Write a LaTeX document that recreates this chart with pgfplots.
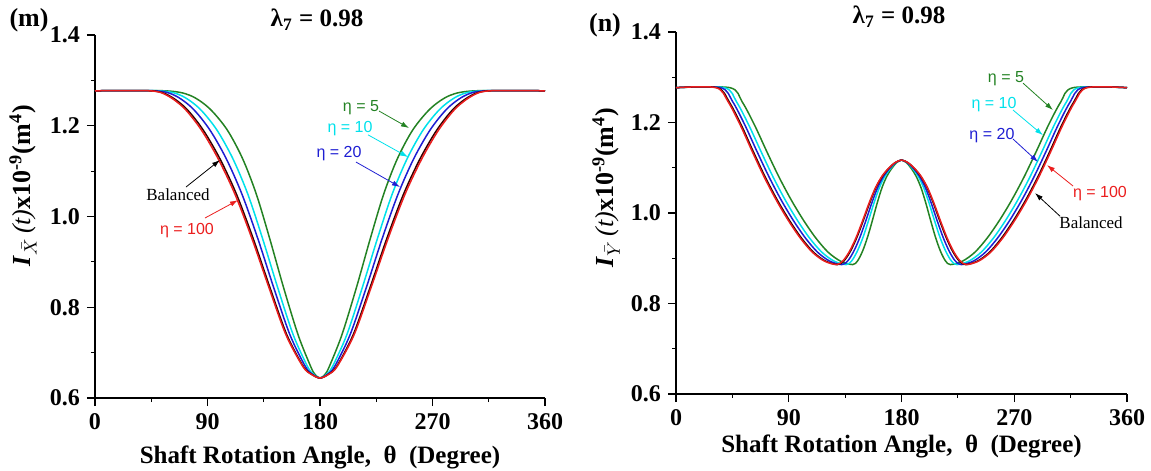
\documentclass[border=0pt]{standalone}
\usepackage{pgfplots}
\pgfplotsset{compat=1.18}
\usepackage{fontspec}
\setmainfont{Liberation Serif}
\setsansfont{Liberation Sans}
\usetikzlibrary{arrows.meta}
\definecolor{cgreen}{RGB}{35,130,35}
\definecolor{ccyan}{RGB}{0,225,235}
\definecolor{cblue}{RGB}{30,30,210}
\definecolor{cred}{RGB}{235,30,30}
\definecolor{cblack}{RGB}{50,0,0}
\pgfplotsset{myax/.style={
 scale only axis, axis x line*=bottom, axis y line*=left,
 axis line style={-, line width=0.6pt},
 xmin=0,xmax=360,ymin=0.6,ymax=1.4,
 xtick={0,90,180,270,360}, ytick={0.6,0.8,1.0,1.2,1.4},
 minor x tick num=1, minor y tick num=1, tick align=outside,
 major tick length=4pt, minor tick length=2pt,
 tick style={black, line width=0.6pt},
 /pgf/number format/assume math mode=true,
 tick label style={font=\fontsize{12}{12}\selectfont\bfseries},
 yticklabel style={/pgf/number format/fixed, /pgf/number format/fixed zerofill, /pgf/number format/precision=1},
 label style={font=\fontsize{12.5}{13}\selectfont\bfseries},
 clip=false,
 every axis plot/.append style={line width=0.75pt, smooth, tension=0.5},
}}
\tikzset{ann/.style={font=\sffamily\fontsize{8}{8}\selectfont},
 annr/.style={font=\fontsize{8.5}{8.5}\selectfont},
 arr/.style={-{Latex[length=4pt,width=2.6pt]}, line width=0.4pt}}
\begin{document}
\begin{tikzpicture}
\useasboundingbox (0,0) rectangle (575.5pt,235.5pt);
\node[font=\fontsize{13}{13}\selectfont\bfseries] at (14.5pt,225.5pt) {(m)};
\node[font=\fontsize{12.5}{13}\selectfont\bfseries] at (158.5pt,225.5pt) {λ\textsubscript{7} = 0.98};
\node[font=\fontsize{13}{13}\selectfont\bfseries] at (302.5pt,223pt) {(n)};
\node[font=\fontsize{12.5}{13}\selectfont\bfseries] at (449.5pt,227pt) {λ\textsubscript{7} = 0.98};
% ---------------- left panel
\begin{axis}[myax, at={(47.5pt,36.5pt)}, anchor=south west, width=225pt, height=181.5pt,
 xlabel={Shaft Rotation Angle,\ \ θ\ \ (Degree)},
 xlabel style={at={(axis description cs:0.5,-0.1625)}, anchor=center},
 ylabel={\textbf{\textit{I}}\textsubscript{$\bar{X}$}\,{\mdseries\textit{(t)}}x10\textsuperscript{-9}(m\textsuperscript{4})},
 ylabel style={at={(axis description cs:-0.16,0.584)}, anchor=center, rotate=0, font=\fontsize{13}{13}\selectfont\bfseries}]
\addplot[cgreen] coordinates {(0,1.277)(56,1.277)(76,1.267)(91.2,1.239)(105.5,1.192)(118,1.128)(129.1,1.049)(139.8,0.951)(150.9,0.843)(162.5,0.739)(172.6,0.669)(176,0.652)(180,0.644)(184,0.652)(187.4,0.669)(197.5,0.739)(209.1,0.843)(220.2,0.951)(230.9,1.049)(242,1.128)(254.5,1.192)(268.8,1.239)(284,1.267)(304,1.277)(360,1.277)};
\addplot[ccyan] coordinates {(0,1.277)(51.2,1.277)(68.6,1.267)(83.2,1.239)(97.2,1.192)(110.2,1.128)(122.3,1.049)(134.1,0.951)(146.2,0.843)(158.6,0.739)(170.1,0.669)(174.9,0.652)(180,0.644)(185.1,0.652)(189.9,0.669)(201.4,0.739)(213.8,0.843)(225.9,0.951)(237.7,1.049)(249.8,1.128)(262.8,1.192)(276.8,1.239)(291.4,1.267)(308.8,1.277)(360,1.277)};
\addplot[cblue] coordinates {(0,1.277)(48,1.277)(63.7,1.267)(77.8,1.239)(91.6,1.192)(104.9,1.128)(117.6,1.049)(130.3,0.951)(143,0.843)(156,0.739)(168.4,0.669)(174.1,0.652)(180,0.644)(185.9,0.652)(191.6,0.669)(204,0.739)(217,0.843)(229.7,0.951)(242.4,1.049)(255.1,1.128)(268.4,1.192)(282.2,1.239)(296.3,1.267)(312,1.277)(360,1.277)};
\addplot[cblack] coordinates {(0,1.277)(44.8,1.277)(58.9,1.267)(72.6,1.239)(86.2,1.192)(99.8,1.128)(113.2,1.049)(126.6,0.951)(140,0.843)(153.5,0.739)(166.8,0.669)(173.4,0.652)(180,0.644)(186.6,0.652)(193.2,0.669)(206.5,0.739)(220,0.843)(233.4,0.951)(246.8,1.049)(260.2,1.128)(273.8,1.192)(287.4,1.239)(301.1,1.267)(315.2,1.277)(360,1.277)};
\addplot[cred] coordinates {(0,1.277)(44,1.277)(57.6,1.267)(71.2,1.239)(84.8,1.192)(98.4,1.128)(112,1.049)(125.6,0.951)(139.2,0.843)(152.8,0.739)(166.4,0.669)(173.2,0.652)(180,0.644)(186.8,0.652)(193.6,0.669)(207.2,0.739)(220.8,0.843)(234.4,0.951)(248,1.049)(261.6,1.128)(275.2,1.192)(288.8,1.239)(302.4,1.267)(316,1.277)(360,1.277)};
\node[ann, cgreen] at (axis cs:212.8,1.241) {η = 5};
\draw[arr, cgreen] (axis cs:227.2,1.2325) -- (axis cs:251.2,1.195);
\node[ann, ccyan] at (axis cs:204,1.193) {η = 10};
\draw[arr, ccyan] (axis cs:218.4,1.180) -- (axis cs:250.4,1.131);
\node[ann, cblue] at (axis cs:195.2,1.138) {η = 20};
\draw[arr, cblue] (axis cs:208.8,1.120) -- (axis cs:244,1.065);
\node[annr, black] at (axis cs:66.4,1.047) {Balanced};
\draw[arr, black] (axis cs:72.8,1.065) -- (axis cs:100,1.1245);
\node[ann, cred] at (axis cs:73.6,0.970) {η = 100};
\draw[arr, cred] (axis cs:88,0.9967) -- (axis cs:114.4,1.036);
\end{axis}
% ---------------- right panel
\begin{axis}[myax, at={(338pt,38.5pt)}, anchor=south west, width=225.5pt, height=181pt,
 xlabel={Shaft Rotation Angle,\ \ θ\ \ (Degree)},
 xlabel style={at={(axis description cs:0.5,-0.146)}, anchor=center},
 ylabel={\textbf{\textit{I}}\textsubscript{$\bar{Y}$}\,{\mdseries\textit{(t)}}x10\textsuperscript{-9}(m\textsuperscript{4})},
 ylabel style={at={(axis description cs:-0.155,0.57)}, anchor=center, rotate=0, font=\fontsize{13}{13}\selectfont\bfseries}]
\addplot[cgreen] coordinates {(0,1.277)(43,1.277)(52.8,1.2457)(62.6,1.1949)(72.4,1.1362)(82.2,1.0795)(92,1.0287)(101.8,0.9838)(111.6,0.9447)(121.4,0.9134)(131.2,0.8938)(141,0.886)(144.9,0.8941)(148.8,0.9149)(152.7,0.9449)(156.6,0.9819)(160.5,1.0211)(164.4,1.0558)(168.3,1.0812)(172.2,1.0985)(176.1,1.1112)(180,1.117)(183.9,1.1112)(187.8,1.0985)(191.7,1.0812)(195.6,1.0558)(199.5,1.0211)(203.4,0.9819)(207.3,0.9449)(211.2,0.9149)(215.1,0.8941)(219,0.886)(228.8,0.8938)(238.6,0.9134)(248.4,0.9447)(258.2,0.9838)(268,1.0287)(277.8,1.0795)(287.6,1.1362)(297.4,1.1949)(307.2,1.2457)(317,1.277)(360,1.277)};
\addplot[ccyan] coordinates {(0,1.277)(38.6,1.277)(48.3,1.2457)(58,1.1949)(67.8,1.1362)(77.5,1.0795)(87.2,1.0287)(96.9,0.9838)(106.6,0.9447)(116.4,0.9134)(126.1,0.8938)(135.8,0.886)(140.2,0.8941)(144.6,0.9149)(149.1,0.9449)(153.5,0.9819)(157.9,1.0211)(162.3,1.0558)(166.7,1.0812)(171.2,1.0985)(175.6,1.1112)(180,1.117)(184.4,1.1112)(188.8,1.0985)(193.3,1.0812)(197.7,1.0558)(202.1,1.0211)(206.5,0.9819)(210.9,0.9449)(215.4,0.9149)(219.8,0.8941)(224.2,0.886)(233.9,0.8938)(243.6,0.9134)(253.4,0.9447)(263.1,0.9838)(272.8,1.0287)(282.5,1.0795)(292.2,1.1362)(302,1.1949)(311.7,1.2457)(321.4,1.277)(360,1.277)};
\addplot[cblue] coordinates {(0,1.277)(35.6,1.277)(45.3,1.2457)(54.9,1.1949)(64.6,1.1362)(74.3,1.0795)(83.95,1.0287)(93.6,0.9838)(103.3,0.9447)(113,0.9134)(122.6,0.8938)(132.3,0.886)(137.1,0.8941)(141.8,0.9149)(146.6,0.9449)(151.4,0.9819)(156.15,1.0211)(160.9,1.0558)(165.7,1.0812)(170.5,1.0985)(175.2,1.1112)(180,1.117)(184.8,1.1112)(189.5,1.0985)(194.3,1.0812)(199.1,1.0558)(203.85,1.0211)(208.6,0.9819)(213.4,0.9449)(218.2,0.9149)(222.9,0.8941)(227.7,0.886)(237.4,0.8938)(247,0.9134)(256.7,0.9447)(266.4,0.9838)(276.05,1.0287)(285.7,1.0795)(295.4,1.1362)(305.1,1.1949)(314.7,1.2457)(324.4,1.277)(360,1.277)};
\addplot[cblack] coordinates {(0,1.277)(32.8,1.277)(42.4,1.2457)(52,1.1949)(61.6,1.1362)(71.2,1.0795)(80.85,1.0287)(90.5,0.9838)(100.1,0.9447)(109.7,0.9134)(119.3,0.8938)(128.9,0.886)(134,0.8941)(139.1,0.9149)(144.2,0.9449)(149.3,0.9819)(154.45,1.0211)(159.55,1.0558)(164.7,1.0812)(169.8,1.0985)(174.9,1.1112)(180,1.117)(185.1,1.1112)(190.2,1.0985)(195.3,1.0812)(200.45,1.0558)(205.55,1.0211)(210.65,0.9819)(215.8,0.9449)(220.9,0.9149)(226,0.8941)(231.1,0.886)(240.7,0.8938)(250.3,0.9134)(259.9,0.9447)(269.5,0.9838)(279.15,1.0287)(288.8,1.0795)(298.4,1.1362)(308,1.1949)(317.6,1.2457)(327.2,1.277)(360,1.277)};
\addplot[cred] coordinates {(0,1.277)(32,1.277)(41.6,1.2457)(51.2,1.1949)(60.8,1.1362)(70.4,1.0795)(80,1.0287)(89.6,0.9838)(99.2,0.9447)(108.8,0.9134)(118.4,0.8938)(128,0.886)(133.2,0.8941)(138.4,0.9149)(143.6,0.9449)(148.8,0.9819)(154,1.0211)(159.2,1.0558)(164.4,1.0812)(169.6,1.0985)(174.8,1.1112)(180,1.117)(185.2,1.1112)(190.4,1.0985)(195.6,1.0812)(200.8,1.0558)(206,1.0211)(211.2,0.9819)(216.4,0.9449)(221.6,0.9149)(226.8,0.8941)(232,0.886)(241.6,0.8938)(251.2,0.9134)(260.8,0.9447)(270.4,0.9838)(280,1.0287)(289.6,1.0795)(299.2,1.1362)(308.8,1.1949)(318.4,1.2457)(328,1.277)(360,1.277)};
\node[ann, cgreen] at (axis cs:263.4,1.296) {η = 5};
\draw[arr, cgreen] (axis cs:277,1.287) -- (axis cs:300.9,1.2276);
\node[ann, ccyan] at (axis cs:253.8,1.2387) {η = 10};
\draw[arr, ccyan] (axis cs:269,1.2276) -- (axis cs:292.9,1.172);
\node[ann, cblue] at (axis cs:252.2,1.172) {η = 20};
\draw[arr, cblue] (axis cs:269,1.1635) -- (axis cs:289,1.1127);
\node[ann, cred] at (axis cs:338.4,1.044) {η = 100};
\draw[arr, cred] (axis cs:316.9,1.0597) -- (axis cs:296.1,1.106);
\node[annr, black] at (axis cs:331.3,0.978) {Balanced};
\draw[arr, black] (axis cs:306.5,0.993) -- (axis cs:286.6,1.044);
\end{axis}
\end{tikzpicture}
\end{document}
